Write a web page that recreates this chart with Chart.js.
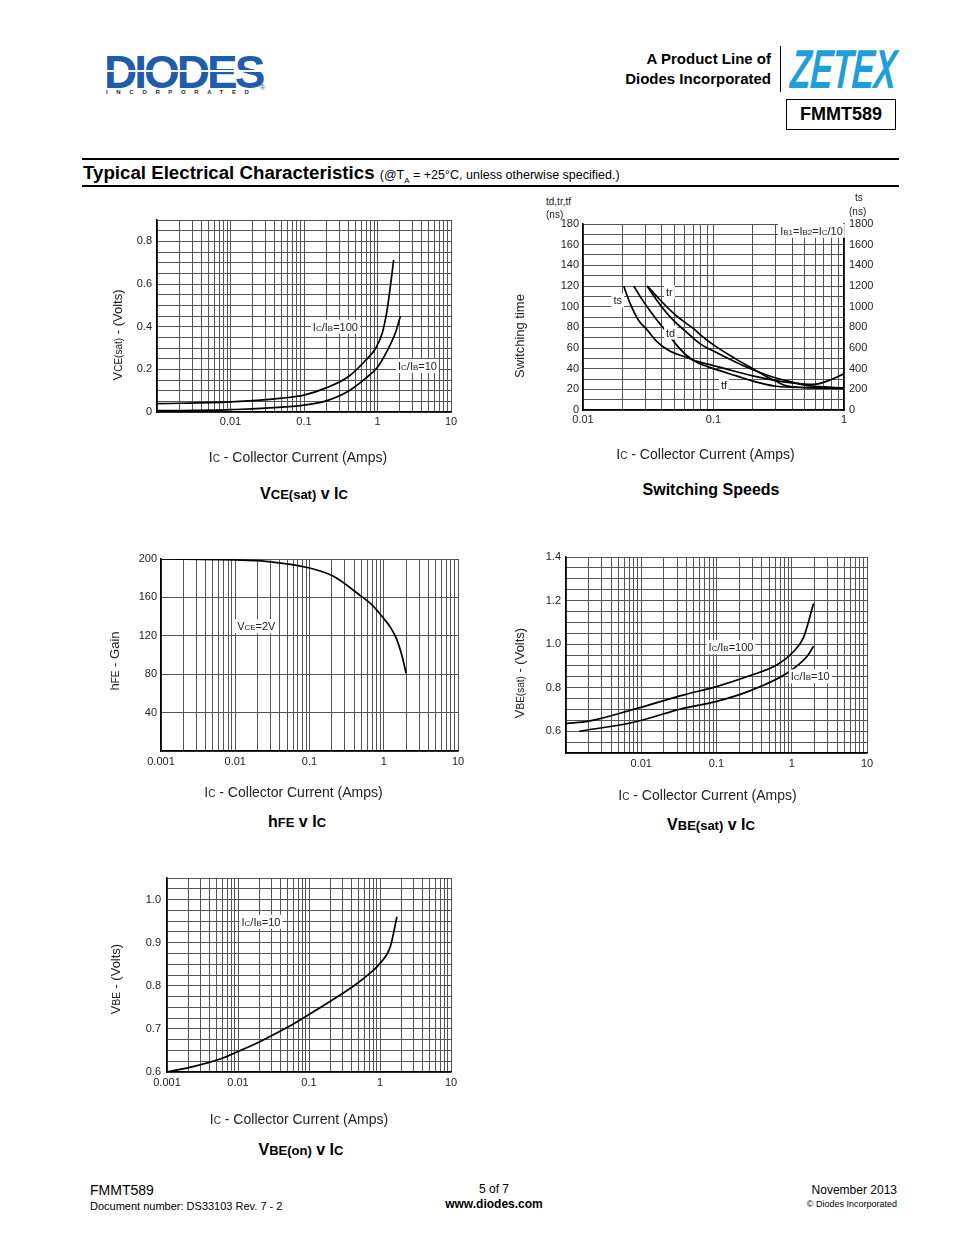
<!DOCTYPE html>
<html>
<head>
<meta charset="utf-8">
<script src="https://cdn.jsdelivr.net/npm/chart.js@4.4.1/dist/chart.umd.min.js"></script>
<style>
  body { margin: 0; background: #fff; font-family: "Liberation Sans", Arial, sans-serif; color: #000; }
  #page { position: relative; width: 954px; height: 1235px; overflow: hidden; background: #fff; }
  .t { position: absolute; white-space: nowrap; line-height: 1; }
  .cap { position: absolute; width: 300px; text-align: center; font-weight: bold; font-size: 16px; line-height: 1; white-space: nowrap; }
  .cap small { font-size: 13px; }
  canvas { position: absolute; }
  .rule { position: absolute; left: 82px; width: 817px; height: 2px; background: #000; }
</style>
</head>
<body>
<div id="page">
  <!-- header -->
  <div class="t" style="left:104px;top:49px;font-size:46px;font-weight:bold;color:#1f5ca9;letter-spacing:-3px;">DIODES</div>
  <div style="position:absolute;left:104px;top:70px;width:160px;height:2px;background:#fff;"></div>
  <div class="t" style="left:106px;top:89px;font-size:6px;font-weight:bold;color:#1a2a4a;letter-spacing:8.6px;">INCORPORATED</div>
  <div class="t" style="left:260px;top:84px;font-size:7px;color:#1f5ca9;">®</div>
  <div class="t" style="right:183px;top:51px;font-size:15px;font-weight:bold;text-align:right;">A Product Line of</div>
  <div class="t" style="right:183px;top:71px;font-size:15px;font-weight:bold;text-align:right;">Diodes Incorporated</div>
  <div style="position:absolute;left:780px;top:46px;width:1px;height:46px;background:#000;"></div>
  <div class="t" style="left:789px;top:42px;font-size:55px;font-weight:bold;font-style:italic;color:#1e9fd8;letter-spacing:-1px;transform:scaleX(0.61) skewX(-6deg);transform-origin:left bottom;">ZETEX</div>
  <div style="position:absolute;left:786px;top:99px;width:108px;height:29px;border:1.5px solid #000;text-align:center;font-weight:bold;font-size:18px;line-height:29px;">FMMT589</div>

  <div class="rule" style="top:158px;"></div>
  <div class="t" style="left:83px;top:164px;font-size:18.7px;font-weight:bold;">Typical Electrical Characteristics <span style="font-size:12.5px;font-weight:normal;">(@T<sub style="font-size:8px;">A</sub> = +25°C, unless otherwise specified.)</span></div>
  <div class="rule" style="top:185px;"></div>

  <!-- charts -->
  <canvas id="c1" width="366" height="259" style="left:105px;top:210px;"></canvas>
  <canvas id="c2" width="372" height="252" style="left:507px;top:214px;"></canvas>
  <canvas id="c3" width="376" height="255" style="left:102px;top:549px;"></canvas>
  <canvas id="c4" width="380" height="260" style="left:507px;top:547px;"></canvas>
  <canvas id="c5" width="368" height="263" style="left:103px;top:868px;"></canvas>

  <div class="t" style="left:546px;top:197px;font-size:10px;color:#222;">td,tr,tf</div>
  <div class="t" style="left:546px;top:210px;font-size:10px;color:#222;">(ns)</div>
  <div class="t" style="left:855px;top:193px;font-size:10px;color:#222;">ts</div>
  <div class="t" style="left:849px;top:207px;font-size:10px;color:#222;">(ns)</div>

  <div class="cap" style="left:154px;top:486px;">V<small>CE(sat)</small> v I<small>C</small></div>
  <div class="cap" style="left:561px;top:482px;">Switching Speeds</div>
  <div class="cap" style="left:147px;top:814px;">h<small>FE</small> v I<small>C</small></div>
  <div class="cap" style="left:561px;top:817px;">V<small>BE(sat)</small> v I<small>C</small></div>
  <div class="cap" style="left:151px;top:1142px;">V<small>BE(on)</small> v I<small>C</small></div>

  <!-- footer -->
  <div class="t" style="left:90px;top:1183px;font-size:14px;">FMMT589</div>
  <div class="t" style="left:90px;top:1201px;font-size:11px;">Document number: DS33103 Rev. 7 - 2</div>
  <div class="t" style="left:394px;top:1183px;width:200px;text-align:center;font-size:12px;">5 of 7</div>
  <div class="t" style="left:394px;top:1198px;width:200px;text-align:center;font-size:12px;font-weight:bold;">www.diodes.com</div>
  <div class="t" style="right:57px;top:1184px;font-size:12px;text-align:right;">November 2013</div>
  <div class="t" style="right:57px;top:1200px;font-size:9px;text-align:right;">© Diodes Incorporated</div>
</div>

<script>
// ---- data ----
const logDecades = [0.001, 0.01, 0.1, 1, 10];
const logSteps = [1, 2, 3, 4, 5, 6, 7, 8, 9];

// VCE(sat) v IC
const vceX100 = [0.001, 0.01, 0.05, 0.1, 0.2, 0.4, 0.7, 0.95, 1.17, 1.34, 1.49, 1.66];
const vceY100 = [0.039, 0.047, 0.065, 0.079, 0.113, 0.165, 0.245, 0.30, 0.374, 0.47, 0.584, 0.713];
const vceX10 = [0.001, 0.01, 0.1, 0.2, 0.4, 0.7, 1.0, 1.37, 1.75, 2.05];
const vceY10 = [0.006, 0.011, 0.032, 0.052, 0.097, 0.16, 0.21, 0.29, 0.37, 0.45];
const vceXLabels = ['0.01', '0.1', '1', '10'];
const vceYLabels = ['0', '0.2', '0.4', '0.6', '0.8'];

// Switching speeds (ts on right axis)
const swXts = [0.0205, 0.023, 0.0266, 0.031, 0.037, 0.047, 0.062, 0.075, 0.1, 0.15, 0.2, 0.3, 0.4, 0.5, 0.58, 0.8, 1.0];
const swTs = [1200, 1030, 870, 775, 660, 565, 510, 470, 430, 370, 330, 285, 262, 250, 248, 295, 350];
const swXtd = [0.0245, 0.028, 0.033, 0.038, 0.044, 0.052, 0.062, 0.075, 0.1, 0.15, 0.2, 0.3, 0.4, 1.0];
const swTd = [120, 108, 95, 85, 75, 63, 53, 46, 40, 33, 28, 23, 22, 21];
const swXtr = [0.031, 0.035, 0.04, 0.05, 0.06, 0.07, 0.079, 0.1, 0.15, 0.2, 0.25, 0.3, 0.35, 0.4, 0.6, 1.0];
const swTr = [120, 113, 105, 93, 85, 79, 73, 63, 49, 40, 33, 28, 24, 22.5, 21.5, 21];
const swXtf = [0.031, 0.035, 0.04, 0.05, 0.06, 0.079, 0.1, 0.15, 0.2, 0.3, 0.4, 0.5, 0.6, 0.8, 1.0];
const swTf = [120, 110, 100, 86, 77, 64, 57, 46, 39, 31, 27, 24, 23, 22, 21];
const swXLabels = ['0.01', '0.1', '1'];
const swYLabels = ['0', '20', '40', '60', '80', '100', '120', '140', '160', '180'];
const swY2Labels = ['0', '200', '400', '600', '800', '1000', '1200', '1400', '1600', '1800'];

// hFE v IC
const hfeX = [0.001, 0.01, 0.026, 0.1, 0.21, 0.5, 0.7, 1.0, 1.25, 1.5, 1.75, 2.0];
const hfeY = [200, 199, 197.6, 190.6, 182, 161, 152, 138, 128, 116, 100, 81];
const hfeXLabels = ['0.001', '0.01', '0.1', '1', '10'];
const hfeYLabels = ['40', '80', '120', '160', '200'];

// VBE(sat) v IC
const vbsX100 = [0.001, 0.002, 0.0079, 0.037, 0.1, 0.3, 0.63, 1.05, 1.43, 1.95];
const vbsY100 = [0.635, 0.646, 0.70, 0.767, 0.805, 0.859, 0.904, 0.965, 1.03, 1.186];
const vbsX10 = [0.0015, 0.0079, 0.037, 0.1, 0.3, 0.86, 1.58, 1.95];
const vbsY10 = [0.60, 0.641, 0.706, 0.737, 0.79, 0.866, 0.942, 0.99];
const vbsXLabels = ['0.01', '0.1', '1', '10'];
const vbsYLabels = ['0.6', '0.8', '1.0', '1.2', '1.4'];

// VBE(on) v IC
const vboX = [0.001, 0.0024, 0.0056, 0.0108, 0.0206, 0.049, 0.104, 0.2, 0.43, 0.65, 1.0, 1.4, 1.73];
const vboY = [0.600, 0.613, 0.630, 0.650, 0.671, 0.703, 0.735, 0.764, 0.800, 0.823, 0.852, 0.891, 0.96];
const vboXLabels = ['0.001', '0.01', '0.1', '1', '10'];
const vboYLabels = ['0.6', '0.7', '0.8', '0.9', '1.0'];

Chart.defaults.font.family = "'Liberation Sans', Arial, sans-serif";
Chart.defaults.color = '#222';

const GRID = '#555';
const FONT = "px 'Liberation Sans', Arial";

function pts(xs, ys) {
  return xs.map((x, i) => ({ x: x, y: ys[i] }));
}

function curve(xs, ys, axis) {
  return {
    data: pts(xs, ys), yAxisID: axis || 'y',
    borderColor: '#000', borderWidth: 1.7, pointRadius: 0,
    cubicInterpolationMode: 'monotone', fill: false
  };
}

function logTicks(min, max) {
  const out = [];
  logDecades.forEach(d => logSteps.forEach(m => {
    const v = Number((d * m).toPrecision(4));
    if (v >= min * 0.999 && v <= max * 1.001) out.push({ value: v });
  }));
  return out;
}

function xAxis(min, max, labels, pad, h) {
  return {
    type: 'logarithmic', min: min, max: max,
    afterBuildTicks: s => { s.ticks = logTicks(min, max); },
    afterFit: s => { s.height = h; s.paddingLeft = 0; s.paddingRight = 0; },
    ticks: {
      autoSkip: false, maxRotation: 0, minRotation: 0, padding: pad, font: { size: 11 },
      callback: v => labels.find(l => Math.abs(Number(l) - v) < v * 1e-6) ?? ''
    },
    grid: { color: GRID, lineWidth: 1, drawTicks: false },
    border: { color: '#000', width: 1.5 }
  };
}

function yAxis(min, max, step, labels, pad, w, pos) {
  return {
    type: 'linear', position: pos || 'left', min: min, max: max,
    afterFit: s => { s.width = w; s.paddingTop = 0; s.paddingBottom = 0; },
    ticks: {
      stepSize: step, autoSkip: false, padding: pad, font: { size: 11 },
      callback: v => labels.find(l => Math.abs(Number(l) - v) < 1e-6) ?? ''
    },
    grid: { color: GRID, lineWidth: 1, drawTicks: false, drawOnChartArea: pos !== 'right' },
    border: { color: '#000', width: 1.5 }
  };
}

// text with {..} parts drawn at subscript size
function richParts(ctx, text, size, sub) {
  return text.split(/(\{[^}]*\})/).filter(Boolean).map(p => {
    const small = p[0] === '{';
    const t = small ? p.slice(1, -1) : p;
    const s = small ? sub : size;
    ctx.font = s + FONT;
    return { t: t, s: s, w: ctx.measureText(t).width };
  });
}

function drawRich(ctx, parts, x, base) {
  parts.forEach(p => {
    ctx.font = p.s + FONT;
    ctx.fillText(p.t, x, base);
    x += p.w;
  });
}

const width = parts => parts.reduce((a, p) => a + p.w, 0);

// labels inside the plots and the axis titles
const textPlugin = {
  id: 'texts',
  afterDraw(chart, args, o) {
    const ctx = chart.ctx;
    const a = chart.chartArea;
    ctx.save();
    (o.notes || []).forEach(n => {
      const x = chart.scales.x.getPixelForValue(n.x);
      const y = chart.scales[n.axis || 'y'].getPixelForValue(n.y);
      const parts = richParts(ctx, n.text, 11, 8);
      ctx.fillStyle = '#fff';
      ctx.fillRect(x - 2, y - 7, width(parts) + 4, 14);
      ctx.fillStyle = '#222';
      drawRich(ctx, parts, x, y + 4);
    });
    ctx.fillStyle = '#222';
    if (o.xTitle) {
      const parts = richParts(ctx, o.xTitle.text, 14, 10);
      drawRich(ctx, parts, (a.left + a.right) / 2 + o.xTitle.dx - width(parts) / 2, a.bottom + o.xTitle.gap + 5);
    }
    if (o.yTitle) {
      const parts = richParts(ctx, o.yTitle.text, 13, 10);
      ctx.translate(a.left - o.yTitle.gap, (a.top + a.bottom) / 2 + o.yTitle.dy);
      ctx.rotate(-Math.PI / 2);
      drawRich(ctx, parts, -width(parts) / 2, 4.5);
    }
    ctx.restore();
  }
};

const IC_TITLE = 'I{C} - Collector Current (Amps)';

function build(id, datasets, scales, padRight, texts) {
  return new Chart(document.getElementById(id), {
    type: 'line',
    data: { datasets: datasets },
    options: {
      responsive: false, animation: false, events: [],
      layout: { padding: { top: 10, right: padRight, left: 0, bottom: 0 } },
      plugins: { legend: { display: false }, tooltip: { enabled: false }, texts: texts },
      scales: scales
    },
    plugins: [textPlugin]
  });
}

// VCE(sat) v IC
build('c1',
  [curve(vceX100, vceY100), curve(vceX10, vceY10)],
  { x: xAxis(0.001, 10, vceXLabels, 3, 57), y: yAxis(0, 0.9, 0.05, vceYLabels, 5, 52) },
  20,
  {
    notes: [{ x: 0.132, y: 0.40, text: 'I{C}/I{B}=100' }, { x: 1.9, y: 0.216, text: 'I{C}/I{B}=10' }],
    xTitle: { text: IC_TITLE, dx: -6, gap: 45 },
    yTitle: { text: 'V{CE(sat)} - (Volts)', dy: 19, gap: 40 }
  });

// Switching speeds
build('c2',
  [curve(swXts, swTs, 'y2'), curve(swXtd, swTd), curve(swXtr, swTr), curve(swXtf, swTf)],
  {
    x: xAxis(0.01, 1, swXLabels, 3, 56),
    y: yAxis(0, 180, 10, swYLabels, 4, 76),
    y2: yAxis(0, 1800, 200, swY2Labels, 5, 35, 'right')
  },
  0,
  {
    notes: [
      { x: 0.0171, y: 106, text: 'ts' },
      { x: 0.0433, y: 114, text: 'tr' },
      { x: 0.0433, y: 75, text: 'td' },
      { x: 0.114, y: 24, text: 'tf' },
      { x: 0.324, y: 173.5, text: 'I{B1}=I{B2}=I{C}/10' }
    ],
    xTitle: { text: IC_TITLE, dx: -8, gap: 44 },
    yTitle: { text: 'Switching time', dy: 19, gap: 64 }
  });

// hFE v IC
build('c3',
  [curve(hfeX, hfeY)],
  { x: xAxis(0.001, 10, hfeXLabels, 4, 53), y: yAxis(0, 200, 40, hfeYLabels, 4, 59) },
  20,
  {
    notes: [{ x: 0.0106, y: 130, text: 'V{CE}=2V' }],
    xTitle: { text: IC_TITLE, dx: -16, gap: 41 },
    yTitle: { text: 'h{FE} - Gain', dy: 6, gap: 47 }
  });

// VBE(sat) v IC
build('c4',
  [curve(vbsX100, vbsY100), curve(vbsX10, vbsY10)],
  { x: xAxis(0.001, 10, vbsXLabels, 4, 54), y: yAxis(0.5, 1.4, 0.05, vbsYLabels, 5, 59) },
  20,
  {
    notes: [{ x: 0.078, y: 0.986, text: 'I{C}/I{B}=100' }, { x: 0.97, y: 0.852, text: 'I{C}/I{B}=10' }],
    xTitle: { text: IC_TITLE, dx: -9, gap: 42 },
    yTitle: { text: 'V{BE(sat)} - (Volts)', dy: 18, gap: 47 }
  });

// VBE(on) v IC
build('c5',
  [curve(vboX, vboY)],
  { x: xAxis(0.001, 10, vboXLabels, 4, 59), y: yAxis(0.6, 1.05, 0.025, vboYLabels, 6, 64) },
  20,
  {
    notes: [{ x: 0.0112, y: 0.9485, text: 'I{C}/I{B}=10' }],
    xTitle: { text: IC_TITLE, dx: -10, gap: 47 },
    yTitle: { text: 'V{BE} - (Volts)', dy: 4, gap: 52 }
  });
</script>
</body>
</html>
